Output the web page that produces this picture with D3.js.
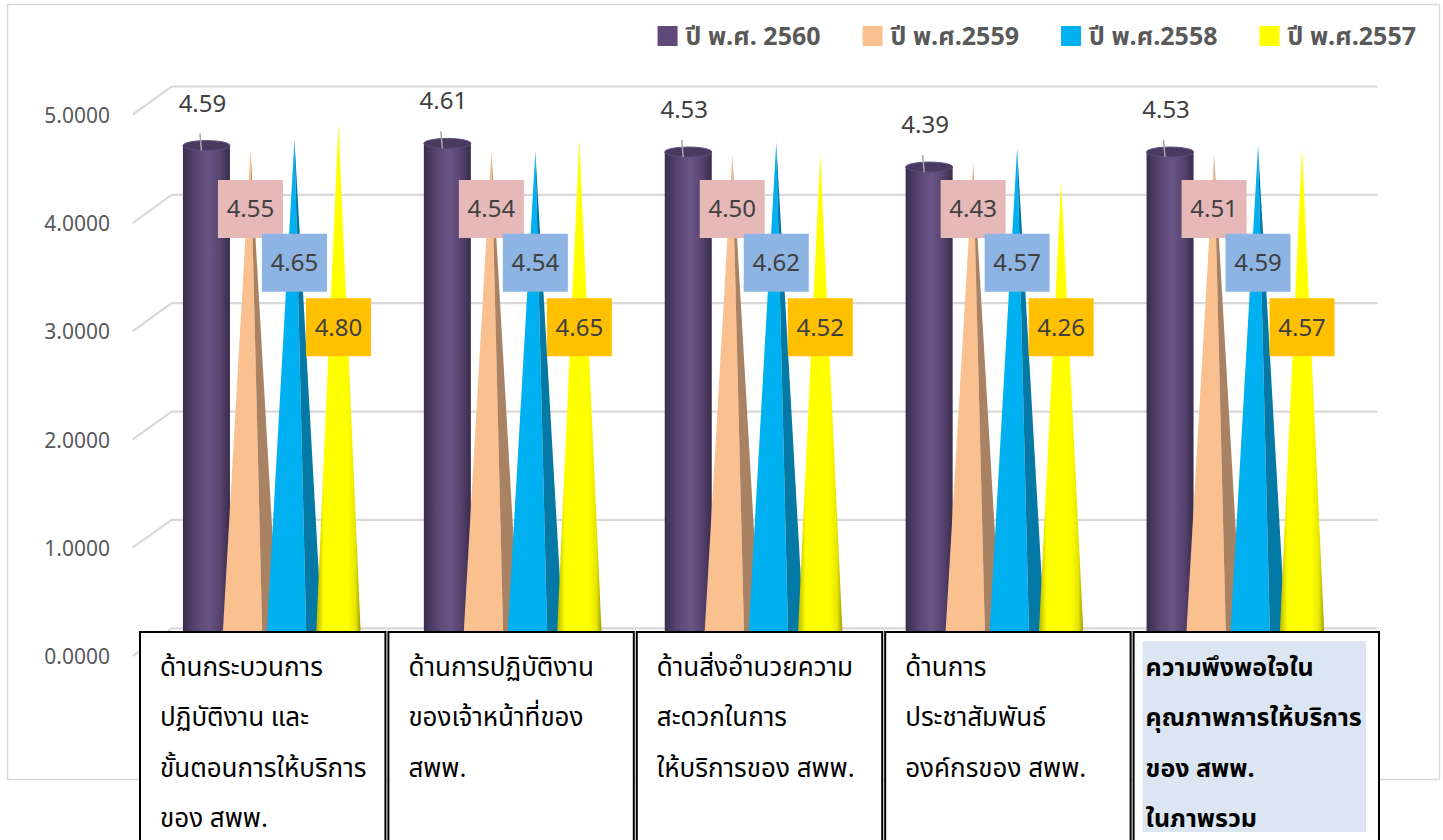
<!DOCTYPE html>
<html>
<head>
<meta charset="utf-8">
<script src="https://cdn.jsdelivr.net/npm/d3@7"></script>
<style>
  html, body { margin: 0; padding: 0; background: #fff; }
  svg { display: block; }
</style>
</head>
<body>
<svg id="chart" width="1443" height="840"></svg>
<script>
// ---------- DATA ----------
const categories = [
  ["ด้านกระบวนการ", "ปฏิบัติงาน และ", "ขั้นตอนการให้บริการ", "ของ สพพ."],
  ["ด้านการปฏิบัติงาน", "ของเจ้าหน้าที่ของ", "สพพ."],
  ["ด้านสิ่งอำนวยความ", "สะดวกในการ", "ให้บริการของ สพพ."],
  ["ด้านการ", "ประชาสัมพันธ์", "องค์กรของ สพพ."],
  ["ความพึงพอใจใน", "คุณภาพการให้บริการ", "ของ สพพ.", "ในภาพรวม"]
];
const seriesNames = ["ปี พ.ศ. 2560", "ปี พ.ศ.2559", "ปี พ.ศ.2558", "ปี พ.ศ.2557"];
const values2560 = [4.59, 4.61, 4.53, 4.39, 4.53];
const values2559 = [4.55, 4.54, 4.50, 4.43, 4.51];
const values2558 = [4.65, 4.54, 4.62, 4.57, 4.59];
const values2557 = [4.80, 4.65, 4.52, 4.26, 4.57];
const yTicks = [0, 1, 2, 3, 4, 5];

// ---------- STYLE ----------
const seriesValues = [values2560, values2559, values2558, values2557];
const seriesStyle = [
  { shape: "cylinder", color: "#5F497A" },
  { shape: "pyramid", color: "#FAC090", dark: "#A88262", box: "#E6B9B8", labelAt: 4.0 },
  { shape: "pyramid", color: "#00B0F0", dark: "#0479A6", box: "#8DB4E2", labelAt: 3.5 },
  { shape: "cone", color: "#FFFF00", box: "#FFC000", labelAt: 2.9 }
];
const numFont = "'Noto Sans', 'Open Sans', sans-serif";
const thaiFont = "'Noto Sans Thai', Tahoma, 'Noto Sans', 'DejaVu Sans', sans-serif";

const svg = d3.select("#chart");
const defs = svg.append("defs");

// gradients
const cyl = defs.append("linearGradient").attr("id", "gCyl").attr("x1", 0).attr("x2", 1).attr("y1", 0).attr("y2", 0);
[["0%", "#3B2C4E"], ["25%", "#57436F"], ["55%", "#6A5587"], ["80%", "#56426E"], ["100%", "#3A2B4C"]]
  .forEach(([o, c]) => cyl.append("stop").attr("offset", o).attr("stop-color", c));
const cone = defs.append("linearGradient").attr("id", "gCone").attr("x1", 0).attr("x2", 1).attr("y1", 0).attr("y2", 0);
[["0%", "#B5B500"], ["18%", "#FFFF00"], ["70%", "#FFFF00"], ["88%", "#E6E600"], ["100%", "#9A9A00"]]
  .forEach(([o, c]) => cone.append("stop").attr("offset", o).attr("stop-color", c));

// outer chart border
svg.append("rect").attr("x", 7.5).attr("y", 4.5).attr("width", 1432).attr("height", 775)
  .attr("fill", "#fff").attr("stroke", "#D9D9D9").attr("stroke-width", 1.5);

// ---------- SCALES ----------
const catIdx = d3.range(categories.length);
const x = d3.scaleBand().domain(catIdx).range([152, 1356.5]).padding(0);
const xs = d3.scaleBand().domain(d3.range(seriesNames.length)).range([0, 176]).padding(0);
const yBack = d3.scaleLinear().domain([0, 5]).range([628.3, 86.5]);
const yFront = d3.scaleLinear().domain([0, 5]).range([657, 115.5]);
const yBar = d3.scaleLinear().domain([0, 5]).range([639, 101.5]);
const backLeft = 171.7, backRight = 1377.5, frontLeft = 132.7;

// gridlines (back wall + side diagonals)
const grid = svg.append("g").attr("stroke", "#D9D9D9").attr("stroke-width", 2.2).attr("fill", "none");
yTicks.forEach(t => {
  grid.append("path").attr("d",
    `M${frontLeft},${yFront(t) - 1}L${backLeft},${yBack(t)}L${backRight},${yBack(t)}`);
});

// y-axis labels
const yAxis = d3.axisLeft(yFront).tickValues(yTicks).tickFormat(d3.format(".4f")).tickSize(0).tickPadding(0);
const ax = svg.append("g").attr("transform", "translate(110,0)").call(yAxis);
ax.select(".domain").remove();
ax.selectAll("text").attr("font-family", numFont).attr("font-size", 21).attr("fill", "#595959");

// ---------- BARS ----------
const base = yBar(0);
const groups = svg.append("g");
catIdx.forEach(ci => {
  const g = groups.append("g");
  seriesValues.forEach((vals, si) => {
    const st = seriesStyle[si];
    const cx = x(ci) + x.bandwidth() / 2 - 88 + xs(si) + xs.bandwidth() / 2;
    const top = yBar(vals[ci]);
    if (st.shape === "cylinder") {
      const r = 23.5, ry = 5;
      g.append("path")
        .attr("d", `M${cx - r},${top}L${cx - r},${base}A${r},${ry} 0 0 0 ${cx + r},${base}L${cx + r},${top}Z`)
        .attr("fill", "url(#gCyl)");
      g.append("ellipse").attr("cx", cx).attr("cy", top).attr("rx", r).attr("ry", ry)
        .attr("fill", "#4A3A61").attr("stroke", "#5F497A").attr("stroke-width", 1);
    } else if (st.shape === "pyramid") {
      const hw = 28, ridge = 12;
      g.append("path").attr("d", `M${cx},${top}L${cx - hw},${base}L${cx + ridge},${base + 3}Z`).attr("fill", st.color);
      g.append("path").attr("d", `M${cx},${top}L${cx + ridge},${base + 3}L${cx + hw},${base}Z`).attr("fill", st.dark);
    } else {
      const hw = 22.5;
      g.append("path").attr("d", `M${cx},${top}L${cx - hw},${base}Q${cx},${base + 5} ${cx + hw},${base}Z`)
        .attr("fill", "url(#gCone)");
    }
  });
});

// ---------- DATA LABELS ----------
const labels = svg.append("g").attr("font-family", numFont).attr("font-size", 24).attr("fill", "#404040");
catIdx.forEach(ci => {
  seriesValues.forEach((vals, si) => {
    const st = seriesStyle[si];
    const cx = x(ci) + x.bandwidth() / 2 - 88 + xs(si) + xs.bandwidth() / 2;
    const v = vals[ci];
    if (st.shape === "cylinder") {
      const top = yBar(v);
      labels.append("line").attr("x1", cx - 6.5).attr("y1", top - 12).attr("x2", cx - 5).attr("y2", top + 5)
        .attr("stroke", "#A6A6A6").attr("stroke-width", 1.5);
      labels.append("text").attr("x", cx - 4).attr("y", top - 34).attr("text-anchor", "middle")
        .text(d3.format(".2f")(v));
    } else {
      const cy = yBar(st.labelAt);
      labels.append("rect").attr("x", cx - 32.5).attr("y", cy - 29).attr("width", 65).attr("height", 58)
        .attr("fill", st.box);
      labels.append("text").attr("x", cx).attr("y", cy).attr("dy", "0.35em").attr("text-anchor", "middle")
        .text(d3.format(".2f")(v));
    }
  });
});

// ---------- CATEGORY BOXES ----------
const xb = d3.scaleBand().domain(catIdx).range([140, 1379]).paddingInner(0.012);
const boxes = svg.append("g");
catIdx.forEach(ci => {
  const bx = xb(ci), bw = xb.bandwidth(), by = 632;
  const last = ci === categories.length - 1;
  boxes.append("rect").attr("x", bx).attr("y", by).attr("width", bw).attr("height", 230)
    .attr("fill", "#fff").attr("stroke", "#000").attr("stroke-width", 2);
  if (last) {
    boxes.append("rect").attr("x", bx + 9).attr("y", by + 9).attr("width", bw - 22).attr("height", 191)
      .attr("fill", "#DCE6F2");
  }
  const t = boxes.append("text").attr("font-family", thaiFont).attr("font-size", last ? 25 : 26)
    .attr("fill", "#000").attr("font-weight", last ? "bold" : "normal");
  categories[ci].forEach((line, li) => {
    t.append("tspan").attr("x", bx + (last ? 12 : 20)).attr("y", by + 44 + li * 50.3).text(line);
  });
});

// ---------- LEGEND ----------
const legend = svg.append("g").attr("font-family", thaiFont).attr("font-size", 25)
  .attr("font-weight", "bold").attr("fill", "#595959");
const items = seriesNames.map((n, i) => {
  const gi = legend.append("g");
  gi.append("rect").attr("x", 0).attr("y", -10).attr("width", 20).attr("height", 20).attr("fill", seriesStyle[i].color);
  const tx = gi.append("text").attr("x", 28).attr("y", 0).attr("dy", "0.35em").text(n);
  return { gi, w: 28 + tx.node().getComputedTextLength() };
});
const gap = 42;
let total = d3.sum(items, d => d.w) + gap * (items.length - 1);
let cur = 1416 - total;
items.forEach(it => { it.gi.attr("transform", `translate(${cur},36)`); cur += it.w + gap; });
</script>
</body>
</html>
